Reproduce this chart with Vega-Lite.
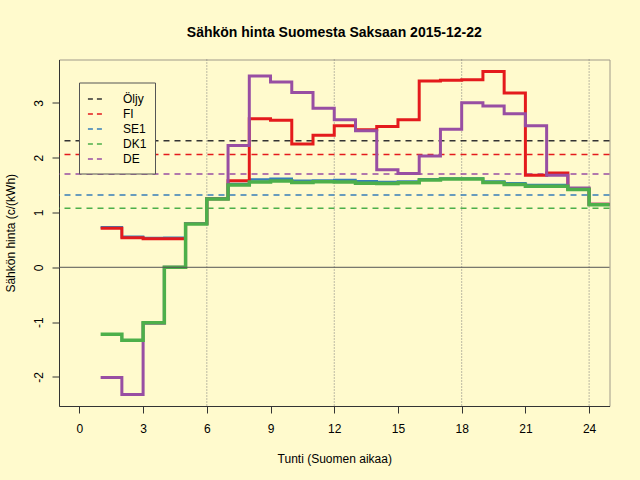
{
  "$schema": "https://vega.github.io/schema/vega-lite/v6.json",
  "width": 550.5,
  "height": 346.5,
  "autosize": {"type": "none"},
  "padding": {"left": 59, "top": 59.5, "right": 30.5, "bottom": 74},
  "background": "#FFFACD",
  "title": {"text": "Sähkön hinta Suomesta Saksaan 2015-12-22", "font": "Liberation Sans", "fontSize": 14, "fontWeight": "bold", "color": "#000000", "anchor": "middle", "frame": "group", "offset": 19},
  "config": {"view": {"stroke": "#a09a8a", "strokeWidth": 1}, "font": "Liberation Sans"},
  "datasets": {
    "grid": [{"tunti": 6}, {"tunti": 12}, {"tunti": 18}, {"tunti": 24}],
    "zero": [{"hinta": 0}],
    "tasot": [
      {"sarja": "Öljy", "hinta": 2.31},
      {"sarja": "FI", "hinta": 2.055},
      {"sarja": "SE1", "hinta": 1.32},
      {"sarja": "DK1", "hinta": 1.077},
      {"sarja": "DE", "hinta": 1.70}
    ],
    "hinnat": [
      {"sarja": "FI", "tunti": 1, "hinta": 0.71}, {"sarja": "FI", "tunti": 2, "hinta": 0.54}, {"sarja": "FI", "tunti": 3, "hinta": 0.52}, {"sarja": "FI", "tunti": 4, "hinta": 0.52}, {"sarja": "FI", "tunti": 5, "hinta": 0.80}, {"sarja": "FI", "tunti": 6, "hinta": 1.25}, {"sarja": "FI", "tunti": 7, "hinta": 1.58}, {"sarja": "FI", "tunti": 8, "hinta": 2.71}, {"sarja": "FI", "tunti": 9, "hinta": 2.68}, {"sarja": "FI", "tunti": 10, "hinta": 2.25}, {"sarja": "FI", "tunti": 11, "hinta": 2.41}, {"sarja": "FI", "tunti": 12, "hinta": 2.58}, {"sarja": "FI", "tunti": 13, "hinta": 2.51}, {"sarja": "FI", "tunti": 14, "hinta": 2.57}, {"sarja": "FI", "tunti": 15, "hinta": 2.69}, {"sarja": "FI", "tunti": 16, "hinta": 3.40}, {"sarja": "FI", "tunti": 17, "hinta": 3.41}, {"sarja": "FI", "tunti": 18, "hinta": 3.42}, {"sarja": "FI", "tunti": 19, "hinta": 3.57}, {"sarja": "FI", "tunti": 20, "hinta": 3.18}, {"sarja": "FI", "tunti": 21, "hinta": 1.68}, {"sarja": "FI", "tunti": 22, "hinta": 1.72}, {"sarja": "FI", "tunti": 23, "hinta": 1.43}, {"sarja": "FI", "tunti": 24, "hinta": 1.15}, {"sarja": "FI", "tunti": 25, "hinta": 1.15},
      {"sarja": "SE1", "tunti": 1, "hinta": 0.73}, {"sarja": "SE1", "tunti": 2, "hinta": 0.555}, {"sarja": "SE1", "tunti": 3, "hinta": 0.535}, {"sarja": "SE1", "tunti": 4, "hinta": 0.54}, {"sarja": "SE1", "tunti": 5, "hinta": 0.80}, {"sarja": "SE1", "tunti": 6, "hinta": 1.26}, {"sarja": "SE1", "tunti": 7, "hinta": 1.52}, {"sarja": "SE1", "tunti": 8, "hinta": 1.60}, {"sarja": "SE1", "tunti": 9, "hinta": 1.615}, {"sarja": "SE1", "tunti": 10, "hinta": 1.58}, {"sarja": "SE1", "tunti": 11, "hinta": 1.585}, {"sarja": "SE1", "tunti": 12, "hinta": 1.59}, {"sarja": "SE1", "tunti": 13, "hinta": 1.57}, {"sarja": "SE1", "tunti": 14, "hinta": 1.555}, {"sarja": "SE1", "tunti": 15, "hinta": 1.565}, {"sarja": "SE1", "tunti": 16, "hinta": 1.605}, {"sarja": "SE1", "tunti": 17, "hinta": 1.62}, {"sarja": "SE1", "tunti": 18, "hinta": 1.62}, {"sarja": "SE1", "tunti": 19, "hinta": 1.565}, {"sarja": "SE1", "tunti": 20, "hinta": 1.535}, {"sarja": "SE1", "tunti": 21, "hinta": 1.50}, {"sarja": "SE1", "tunti": 22, "hinta": 1.50}, {"sarja": "SE1", "tunti": 23, "hinta": 1.43}, {"sarja": "SE1", "tunti": 24, "hinta": 1.15}, {"sarja": "SE1", "tunti": 25, "hinta": 1.15},
      {"sarja": "DK1", "tunti": 1, "hinta": -1.22}, {"sarja": "DK1", "tunti": 2, "hinta": -1.33}, {"sarja": "DK1", "tunti": 3, "hinta": -1.01}, {"sarja": "DK1", "tunti": 4, "hinta": 0.0}, {"sarja": "DK1", "tunti": 5, "hinta": 0.79}, {"sarja": "DK1", "tunti": 6, "hinta": 1.245}, {"sarja": "DK1", "tunti": 7, "hinta": 1.50}, {"sarja": "DK1", "tunti": 8, "hinta": 1.555}, {"sarja": "DK1", "tunti": 9, "hinta": 1.575}, {"sarja": "DK1", "tunti": 10, "hinta": 1.545}, {"sarja": "DK1", "tunti": 11, "hinta": 1.56}, {"sarja": "DK1", "tunti": 12, "hinta": 1.555}, {"sarja": "DK1", "tunti": 13, "hinta": 1.535}, {"sarja": "DK1", "tunti": 14, "hinta": 1.53}, {"sarja": "DK1", "tunti": 15, "hinta": 1.54}, {"sarja": "DK1", "tunti": 16, "hinta": 1.59}, {"sarja": "DK1", "tunti": 17, "hinta": 1.61}, {"sarja": "DK1", "tunti": 18, "hinta": 1.61}, {"sarja": "DK1", "tunti": 19, "hinta": 1.545}, {"sarja": "DK1", "tunti": 20, "hinta": 1.51}, {"sarja": "DK1", "tunti": 21, "hinta": 1.48}, {"sarja": "DK1", "tunti": 22, "hinta": 1.48}, {"sarja": "DK1", "tunti": 23, "hinta": 1.42}, {"sarja": "DK1", "tunti": 24, "hinta": 1.14}, {"sarja": "DK1", "tunti": 25, "hinta": 1.14},
      {"sarja": "DE", "tunti": 1, "hinta": -2.01}, {"sarja": "DE", "tunti": 2, "hinta": -2.32}, {"sarja": "DE", "tunti": 3, "hinta": -1.02}, {"sarja": "DE", "tunti": 4, "hinta": 0.0}, {"sarja": "DE", "tunti": 5, "hinta": 0.80}, {"sarja": "DE", "tunti": 6, "hinta": 1.25}, {"sarja": "DE", "tunti": 7, "hinta": 2.22}, {"sarja": "DE", "tunti": 8, "hinta": 3.49}, {"sarja": "DE", "tunti": 9, "hinta": 3.38}, {"sarja": "DE", "tunti": 10, "hinta": 3.19}, {"sarja": "DE", "tunti": 11, "hinta": 2.90}, {"sarja": "DE", "tunti": 12, "hinta": 2.69}, {"sarja": "DE", "tunti": 13, "hinta": 2.49}, {"sarja": "DE", "tunti": 14, "hinta": 1.78}, {"sarja": "DE", "tunti": 15, "hinta": 1.71}, {"sarja": "DE", "tunti": 16, "hinta": 2.03}, {"sarja": "DE", "tunti": 17, "hinta": 2.52}, {"sarja": "DE", "tunti": 18, "hinta": 3.00}, {"sarja": "DE", "tunti": 19, "hinta": 2.94}, {"sarja": "DE", "tunti": 20, "hinta": 2.80}, {"sarja": "DE", "tunti": 21, "hinta": 2.58}, {"sarja": "DE", "tunti": 22, "hinta": 1.68}, {"sarja": "DE", "tunti": 23, "hinta": 1.445}, {"sarja": "DE", "tunti": 24, "hinta": 1.15}, {"sarja": "DE", "tunti": 25, "hinta": 1.15}
    ]
  },
  "layer": [
    {
      "data": {"name": "grid"},
      "mark": {"type": "rule", "color": "#7a7a7a", "strokeDash": [1, 2], "strokeWidth": 1},
      "encoding": {
        "x": {
          "field": "tunti", "type": "quantitative",
          "scale": {"domain": [-0.96, 24.96], "nice": false, "zero": false},
          "axis": {
            "values": [0, 3, 6, 9, 12, 15, 18, 21, 24], "labelExpr": "'' + datum.value", "grid": false,
            "tickSize": 7, "tickColor": "#333333", "tickWidth": 1,
            "domainColor": "#333333", "domainWidth": 1,
            "labelFont": "Liberation Sans", "labelFontSize": 12, "labelColor": "#000000", "labelPadding": 10,
            "labelFlush": false, "labelOverlap": false,
            "title": "Tunti (Suomen aikaa)", "titleFont": "Liberation Sans", "titleFontSize": 12, "titleFontWeight": "normal", "titleColor": "#000000",
            "titleY": 52, "titleBaseline": "middle"
          }
        }
      }
    },
    {
      "data": {"name": "tasot"},
      "mark": {"type": "rule", "strokeDash": [6, 5], "strokeWidth": 1.5},
      "encoding": {
        "y": {
          "field": "hinta", "type": "quantitative",
          "scale": {"domain": [-2.53, 3.79], "nice": false, "zero": false},
          "axis": {
            "values": [-2, -1, 0, 1, 2, 3], "labelExpr": "'' + datum.value", "grid": false,
            "tickSize": 7, "tickColor": "#333333", "tickWidth": 1,
            "domainColor": "#333333", "domainWidth": 1,
            "labelFont": "Liberation Sans", "labelFontSize": 12, "labelColor": "#000000", "labelPadding": 10,
            "labelAngle": -90, "labelAlign": "center", "labelBaseline": "alphabetic",
            "labelFlush": false, "labelOverlap": false,
            "title": "Sähkön hinta (c/(kWh)", "titleFont": "Liberation Sans", "titleFontSize": 12, "titleFontWeight": "normal", "titleColor": "#000000",
            "titleX": -49, "titleY": 173.25, "titleAngle": -90, "titleAlign": "center", "titleBaseline": "middle"
          }
        },
        "color": {
          "field": "sarja", "type": "nominal",
          "scale": {"domain": ["Öljy", "FI", "SE1", "DK1", "DE"], "range": ["#333333", "#E41A1C", "#377EB8", "#4DAF4A", "#984EA3"]},
          "legend": {
            "title": null, "orient": "none", "legendX": 20, "legendY": 23,
            "symbolType": "stroke", "symbolStrokeWidth": 1.5, "symbolDash": [5, 4], "symbolSize": 230,
            "labelFont": "Liberation Sans", "labelFontSize": 12, "labelColor": "#000000", "labelOffset": 19,
            "strokeColor": "#555555", "fillColor": "#FFFACD", "padding": 8, "rowPadding": 0
          }
        }
      }
    },
    {
      "data": {"name": "hinnat"},
      "transform": [{"filter": "datum.sarja == 'SE1'"}],
      "mark": {"type": "line", "interpolate": "step-after", "clip": true, "color": "#377EB8", "strokeWidth": 2.5},
      "encoding": {
        "x": {"field": "tunti", "type": "quantitative"},
        "y": {"field": "hinta", "type": "quantitative"}
      }
    },
    {
      "data": {"name": "hinnat"},
      "transform": [{"filter": "datum.sarja == 'FI'"}],
      "mark": {"type": "line", "interpolate": "step-after", "clip": true, "color": "#E41A1C", "strokeWidth": 3},
      "encoding": {
        "x": {"field": "tunti", "type": "quantitative"},
        "y": {"field": "hinta", "type": "quantitative"}
      }
    },
    {
      "data": {"name": "hinnat"},
      "transform": [{"filter": "datum.sarja == 'DE'"}],
      "mark": {"type": "line", "interpolate": "step-after", "clip": true, "color": "#984EA3", "strokeWidth": 3},
      "encoding": {
        "x": {"field": "tunti", "type": "quantitative"},
        "y": {"field": "hinta", "type": "quantitative"}
      }
    },
    {
      "data": {"name": "hinnat"},
      "transform": [{"filter": "datum.sarja == 'DK1'"}],
      "mark": {"type": "line", "interpolate": "step-after", "clip": true, "color": "#4DAF4A", "strokeWidth": 3.5},
      "encoding": {
        "x": {"field": "tunti", "type": "quantitative"},
        "y": {"field": "hinta", "type": "quantitative"}
      }
    },
    {
      "data": {"name": "zero"},
      "mark": {"type": "rule", "color": "#555555", "strokeWidth": 1},
      "encoding": {
        "y": {"field": "hinta", "type": "quantitative"}
      }
    }
  ]
}
